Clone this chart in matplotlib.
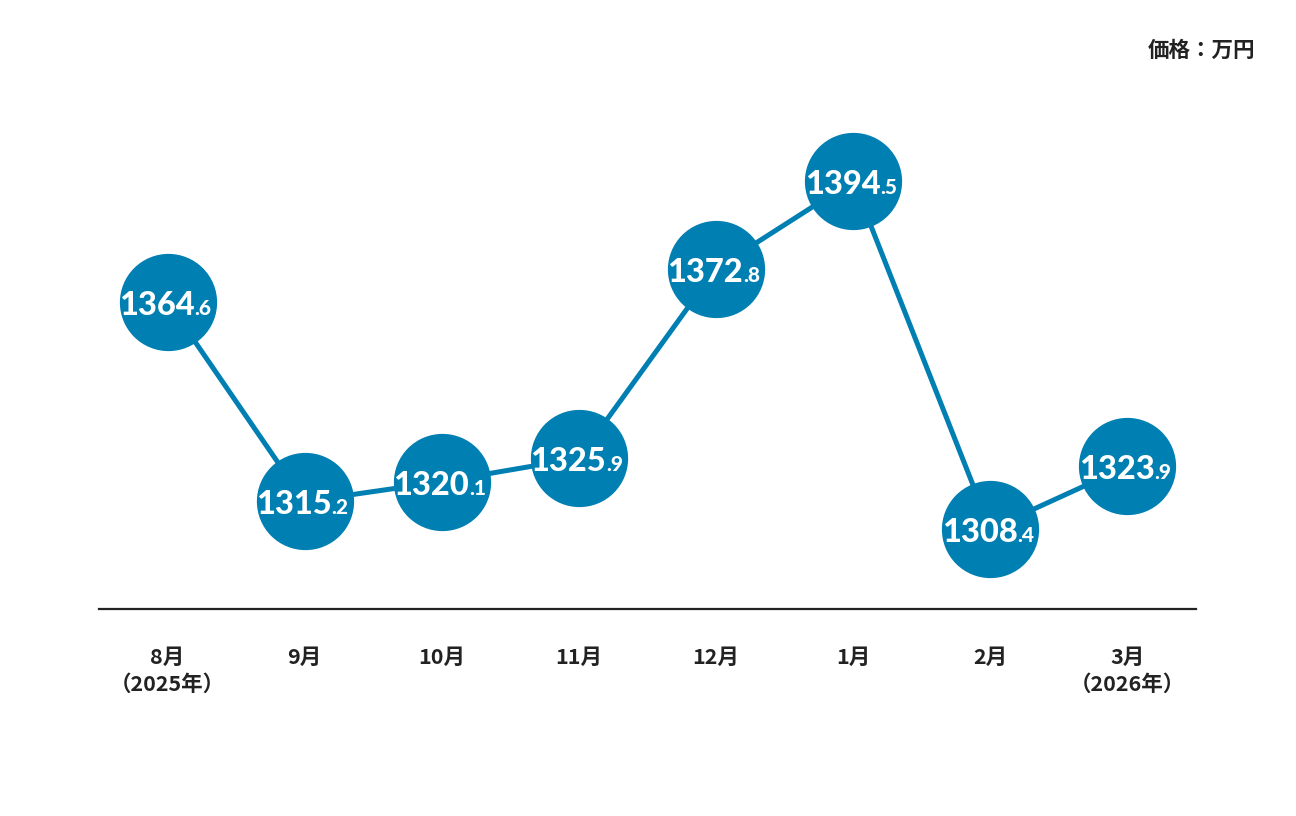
import matplotlib
matplotlib.use("Agg")
from matplotlib import pyplot as plt

months = ["8月\n（2025年）", "9月", "10月", "11月", "12月", "1月", "2月", "3月\n（2026年）"]
prices = [1364.6, 1315.2, 1320.1, 1325.9, 1372.8, 1394.5, 1308.4, 1323.9]
unit_label = "価格：万円"

blue = "#007fb2"
plt.rcParams["font.family"] = ["Noto Sans CJK JP", "DejaVu Sans"]

fig = plt.figure(figsize=(12.96, 8.16), dpi=100)
ax = fig.add_axes([99 / 1296, 1 - 609 / 816, 1097 / 1296, 509 / 816])

xs = list(range(len(prices)))
ax.plot(xs, prices, color=blue, lw=3.6, marker="o", ms=69,
        markerfacecolor=blue, markeredgecolor=blue, zorder=2)

for x, v in zip(xs, prices):
    whole, dec = f"{v:.1f}".split(".")
    ax.annotate(whole, (x, v), xytext=(27, -13), textcoords="offset pixels",
                ha="right", va="baseline", color="white", fontsize=23.5,
                fontweight="black", family=["Lato", "DejaVu Sans"], zorder=3)
    ax.annotate("." + dec, (x, v), xytext=(27, -13), textcoords="offset pixels",
                ha="left", va="baseline", color="white", fontsize=15,
                fontweight="black", family=["Lato", "DejaVu Sans"], zorder=3)

ax.set_xlim(-0.5, len(prices) - 0.5)
ax.set_ylim(1288.6, 1414.5)
ax.set_xticks(xs)
ax.set_xticklabels(months, fontsize=15.5, fontweight="bold", color="#222222",
                   linespacing=1.4, va="top")
ax.tick_params(axis="x", length=0, pad=27)
ax.set_yticks([])
for s in ["top", "right", "left"]:
    ax.spines[s].set_visible(False)
ax.spines["bottom"].set_linewidth(1.6)
ax.spines["bottom"].set_color("#222222")
for art in ax.lines:
    art.set_clip_on(False)

fig.text(1255 / 1296, 1 - 50 / 816, unit_label, ha="right", va="center",
         fontsize=15.5, fontweight="bold", color="#222222")

fig.savefig("out.png", dpi=100, facecolor="white")
